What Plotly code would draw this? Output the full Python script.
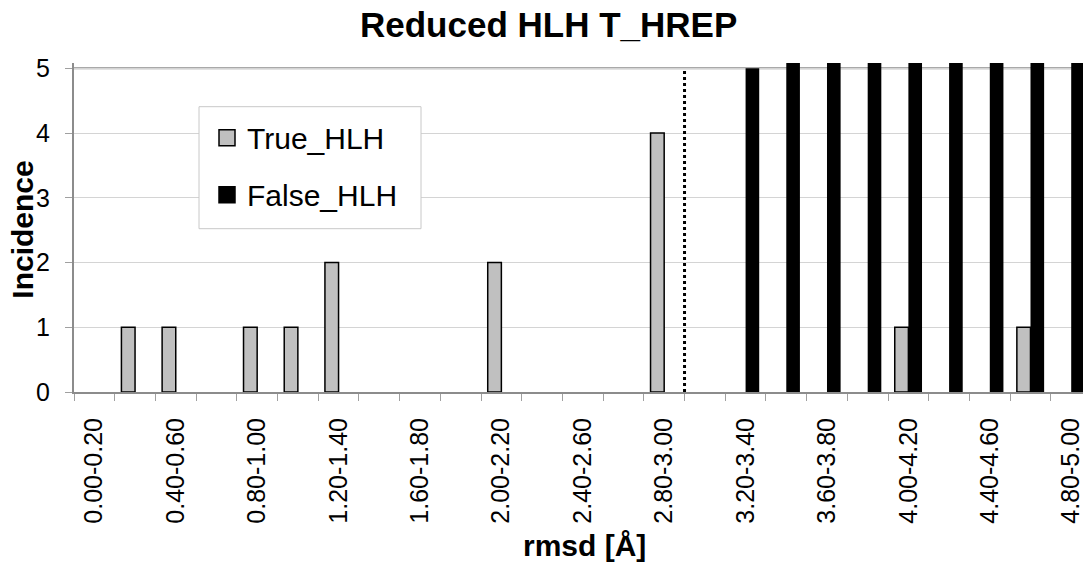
import plotly.graph_objects as go

categories = ["0.00-0.20", "0.20-0.40", "0.40-0.60", "0.60-0.80", "0.80-1.00",
              "1.00-1.20", "1.20-1.40", "1.40-1.60", "1.60-1.80", "1.80-2.00",
              "2.00-2.20", "2.20-2.40", "2.40-2.60", "2.60-2.80", "2.80-3.00",
              "3.00-3.20", "3.20-3.40", "3.40-3.60", "3.60-3.80", "3.80-4.00",
              "4.00-4.20", "4.20-4.40", "4.40-4.60", "4.60-4.80", "4.80-5.00"]
true_hlh = [0, 1, 1, 0, 1, 1, 2, 0, 0, 0, 2, 0, 0, 0, 4, 0, 0, 0, 0, 0, 1, 0, 0, 1, 0]
# bars from 3.40 upward run past the top of the axis (clipped in the original)
false_hlh = [0, 0, 0, 0, 0, 0, 0, 0, 0, 0, 0, 0, 0, 0, 0, 0, 5, 6, 6, 6, 6, 6, 6, 6, 6]
threshold_index = 14.5  # dotted cut-off between 2.80-3.00 and 3.00-3.20

FONT = "Liberation Sans, Arial, sans-serif"
xs = list(range(len(categories)))

L, T, R, B = 74, 63.3, 1083, 392.3
PW, PH = R - L, B - T


def px(x):
    return (x - L) / PW


def py(y):
    return (B - y) / PH


def nz(v):
    return [None if a == 0 else a for a in v]


GRAY = "#c0c0c0"
fig = go.Figure()
fig.add_trace(go.Bar(
    x=xs, y=nz(true_hlh), name="True_HLH", showlegend=False,
    marker=dict(color=GRAY, line=dict(color="#000000", width=1.5)),
))
fig.add_trace(go.Bar(
    x=xs, y=nz(false_hlh), name="False_HLH", showlegend=False,
    marker=dict(color="#000000", line=dict(color="#000000", width=0)),
))
# legend entries
fig.add_trace(go.Scatter(
    x=[None], y=[None], mode="markers", name="True_HLH", legendgroup="a",
    marker=dict(symbol="square", size=16, color=GRAY, line=dict(color="#000000", width=1.5)),
))
fig.add_trace(go.Scatter(
    x=[None], y=[None], mode="markers", name="False_HLH", legendgroup="b",
    marker=dict(symbol="square", size=16, color="#000000", line=dict(color="#000000", width=1.5)),
))

# top frame line at 5
fig.add_shape(type="line", xref="paper", yref="y", x0=0, x1=1, y0=5, y1=5,
              line=dict(color="#8c8c8c", width=2), layer="below")
# dotted threshold line
fig.add_shape(type="line", xref="x", yref="y", x0=threshold_index, x1=threshold_index,
              y0=0, y1=5, line=dict(color="#000000", width=3, dash="dot"), layer="above")
# legend box
fig.add_shape(type="rect", xref="paper", yref="paper",
              x0=px(199), x1=px(421), y0=py(229), y1=py(107),
              line=dict(color="#c8c8c8", width=1), fillcolor="white", layer="above")

fig.update_layout(
    width=1083, height=562,
    margin=dict(l=L, r=1083 - R, t=T, b=562 - B, autoexpand=False),
    paper_bgcolor="white", plot_bgcolor="white",
    barmode="group", bargap=0.33, bargroupgap=0,
    showlegend=True,
    legend=dict(
        x=px(207), y=py(112), xanchor="left", yanchor="top",
        bgcolor="rgba(0,0,0,0)", borderwidth=0,
        font=dict(family=FONT, size=30, color="#000000"),
        tracegroupgap=15, traceorder="grouped",
    ),
    font=dict(family=FONT, color="#000000"),
    annotations=[
        dict(text="<b>Reduced HLH T_HREP</b>", xref="paper", yref="paper",
             x=px(548), y=py(25), xanchor="center", yanchor="middle",
             showarrow=False, font=dict(family=FONT, size=35, color="#000000")),
        dict(text="<b>Incidence</b>", xref="paper", yref="paper", textangle=-90,
             x=px(23), y=py(230), xanchor="center", yanchor="middle",
             showarrow=False, font=dict(family=FONT, size=30, color="#000000")),
        dict(text="<b>rmsd [Å]</b>", xref="paper", yref="paper",
             x=px(584), y=py(546), xanchor="center", yanchor="middle",
             showarrow=False, font=dict(family=FONT, size=30, color="#000000")),
    ],
)

fig.update_xaxes(
    range=[-0.5, 24.29], automargin=False,
    tickmode="array", tickvals=xs[::2], ticktext=categories[::2],
    tickangle=-90, ticks="", ticklabelstandoff=14, ticklabeloverflow="allow",
    tickfont=dict(family=FONT, size=25, color="#000000"),
    showgrid=False, zeroline=False,
    showline=True, linecolor="#8c8c8c", linewidth=2,
    minor=dict(ticks="outside", tick0=-0.5, dtick=1, ticklen=7,
               tickcolor="#a0a0a0", tickwidth=1, showgrid=False),
)
fig.update_yaxes(
    range=[0, 5.083], automargin=False,
    tickmode="array", tickvals=[0, 1, 2, 3, 4, 5],
    ticks="outside", ticklen=7, tickcolor="#a0a0a0", tickwidth=1,
    ticklabelstandoff=10,
    tickfont=dict(family=FONT, size=25, color="#000000"),
    showgrid=True, gridcolor="#d4d4d4", gridwidth=1,
    zeroline=False,
    showline=True, linecolor="#8c8c8c", linewidth=2,
)

fig.write_html("out.html",
               config={"displayModeBar": False},
               post_script="document.body.style.margin='0';document.body.style.overflow='hidden';")
